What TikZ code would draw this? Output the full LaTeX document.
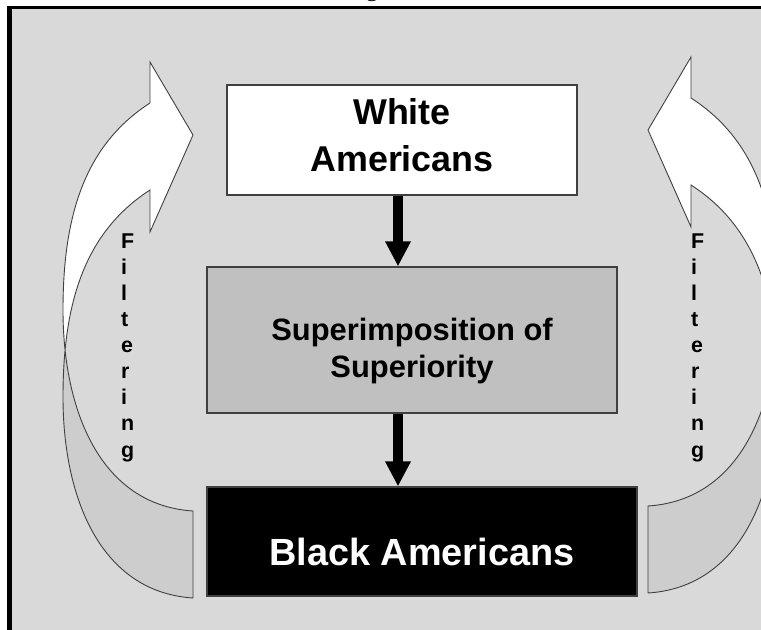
\documentclass[tikz,border=0pt]{standalone}
\usepackage{fontspec}
\setmainfont{Liberation Sans}
\newfontfamily\captionfont{Liberation Serif}
\usepackage{tikz}
\usetikzlibrary{arrows.meta, positioning, calc}

\definecolor{panelgray}{HTML}{D9D9D9}
\definecolor{boxgray}{HTML}{C0C0C0}
\definecolor{bandgray}{HTML}{CDCDCD}
\definecolor{edgegray}{HTML}{404040}

% outline of one curved filtering arrow (left copy, pixel units)
\newcommand{\filterband}{(150,103) .. controls (85,145) and (63,215) .. (63,310)
    .. controls (63,410) and (100,505) .. (193,511) -- (193,598)
    .. controls (100,592) and (63,497) .. (63,397)
    .. controls (63,302) and (85,232) .. (150,190)
    -- (150,232) -- (193,135) -- (150,62) -- cycle}

\begin{document}
\begin{tikzpicture}[x=1bp, y=-1bp,
    box/.style={draw=edgegray, line width=1.2bp, inner sep=0pt},
    boxtext/.style={align=center, inner sep=0pt},
    flow/.style={line width=10bp, -{Triangle[length=25bp, width=24bp]}},
    band/.style={draw=edgegray, line width=0.9bp},
    letters/.style={align=left, anchor=west, inner sep=0pt, font=\fontsize{21.5}{26.2}\selectfont\bfseries}]

    \useasboundingbox (0,0) rectangle (761,630);

    % Panel, frame and the cut off caption letter above it
    \fill[panelgray] (11,9) rectangle (780,640);
    \draw[line width=3.5bp] (7,7.5) -- (780,7.5);
    \draw[line width=4.5bp] (9.5,5.75) -- (9.5,640);
    \node[anchor=base, inner sep=0pt, font=\captionfont\fontsize{24}{24}\selectfont] (capg) at (372,-3) {g};

    % Curved arrows: left one, then its mirror image on the right
    \foreach \f/\dx/\dy in {1/0/0, -1/841/-5} {
        \begin{scope}[shift={(\dx,\dy)}, xscale=\f]
            \begin{scope}
                \clip (0,347) rectangle (300,700);
                \fill[bandgray] \filterband;
            \end{scope}
            \begin{scope}
                \clip (0,0) rectangle (300,347);
                \fill[white] \filterband;
            \end{scope}
            \draw[band] \filterband;
        \end{scope}
    }

    % Boxes
    \node[box, fill=white, minimum width=350bp, minimum height=110bp] (whitebox) at (402,140) {};
    \node[box, fill=boxgray, minimum width=410bp, minimum height=146bp] (supbox) at (412,340) {};
    \node[box, fill=black, minimum width=430bp, minimum height=109bp] (blackbox) at (422,541.5) {};

    % Box texts
    \node[boxtext, font=\fontsize{36}{46.7}\selectfont\bfseries] (whitelbl) at (402,135.3) {White\\Americans};
    \node[boxtext, font=\fontsize{31}{38}\selectfont\bfseries] (suplbl) at (412,351) {Superimposition of\\Superiority};
    \node[boxtext, font=\fontsize{38}{38}\selectfont\bfseries, text=white] (blacklbl) at (422,552) {Black Americans};

    % Downward arrows
    \coordinate (axis) at (398,0);
    \draw[flow] (whitebox.south -| axis) -- (supbox.north -| axis);
    \draw[flow] (supbox.south -| axis) -- (blackbox.north -| axis);

    % Filtering, stacked letters
    \node[letters] (filterl) at (121,347.5) {F\\i\\l\\t\\e\\r\\i\\n\\g};
    \node[letters] (filterr) at (691,347.5) {F\\i\\l\\t\\e\\r\\i\\n\\g};
\end{tikzpicture}
\end{document}
